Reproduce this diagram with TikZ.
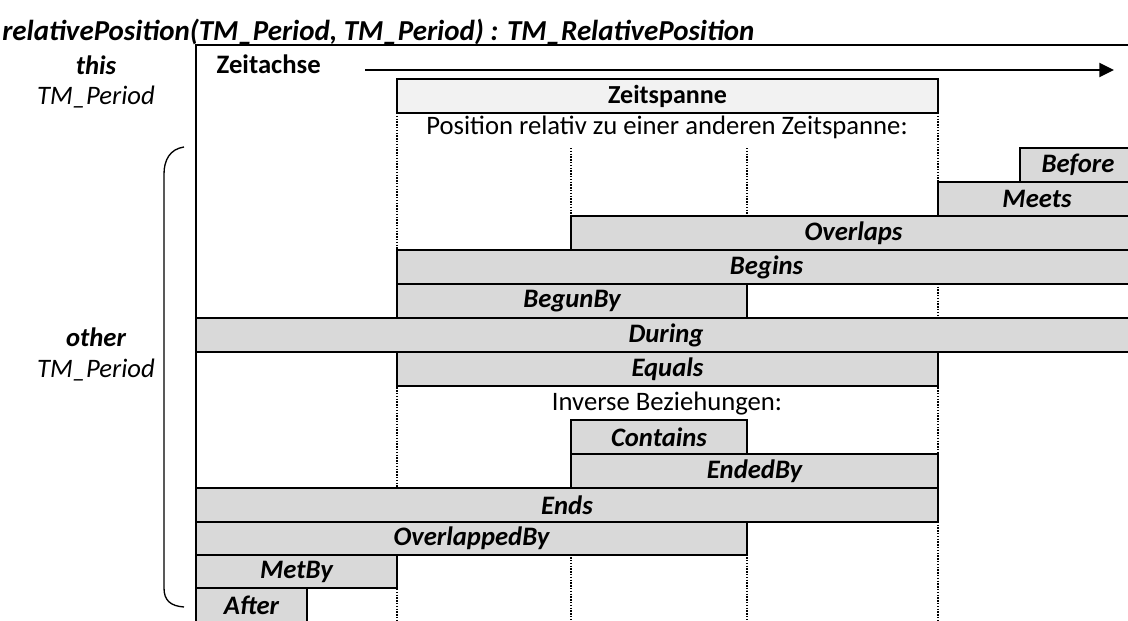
\documentclass[tikz,border=0pt]{standalone}
\usepackage{fontspec}
\setmainfont{Carlito}
\usetikzlibrary{arrows.meta,fit,positioning}
\definecolor{barfill}{HTML}{D9D9D9}
\definecolor{spanfill}{HTML}{F2F2F2}

\begin{document}
\begin{tikzpicture}[x=0.75pt, y=-0.75pt,
  bar/.style={draw, line width=1.3pt, fill=barfill, inner sep=0pt},
  barlabel/.style={inner sep=0pt, font=\fontsize{20}{24}\selectfont\bfseries\itshape},
  span/.style={draw, line width=1.3pt, fill=spanfill, inner sep=0pt},
  frame/.style={line width=1.5pt},
  grid/.style={densely dotted, line width=1.1pt},
  note/.style={font=\fontsize{20}{24}\selectfont},
  side/.style={font=\fontsize{20}{24}\selectfont\itshape}]

  \useasboundingbox (0,0) rectangle (1128,621);

  \node[anchor=base west, inner sep=0pt, font=\fontsize{21.7}{26}\selectfont\bfseries\itshape] (title) at (2,40) {relativePosition(TM\_Period, TM\_Period) : TM\_RelativePosition};

  % frame and time axis
  \draw[frame] (196,625) -- (196,45) -- (1135,45);
  \node[anchor=west, font=\fontsize{20}{24}\selectfont\bfseries] (axis) at (212,64) {Zeitachse};
  \coordinate (axisstart) at (365,70);
  \coordinate (axisend) at (1114,70);
  \draw[frame, -{Triangle[length=11pt, width=10.5pt]}] (axisstart) -- (axisend);

  % this period
  \node[span, fit={(397,79) (938,113)}, label={[inner sep=0pt, font=\fontsize{19.5}{23}\selectfont\bfseries]center:Zeitspanne}] (zeitspanne) {};
  \node[note] (relativ) at (667,127) {Position relativ zu einer anderen Zeitspanne:};
  \draw[grid] (397,113) -- (397,625);
  \draw[grid] (938,113) -- (938,625);
  \draw[grid] (571,148) -- (571,386) (571,420) -- (571,625);
  \draw[grid] (747,148) -- (747,386) (747,420) -- (747,625);

  % relations
  \node[bar, fit={(1020,148) (1136,182)}, label={[barlabel]center:Before}] (before) {};
  \node[bar, fit={(938,182) (1136,216)}, label={[barlabel]center:Meets}] (meets) {};
  \node[bar, fit={(571,216) (1136,250)}, label={[barlabel]center:Overlaps}] (overlaps) {};
  \node[bar, fit={(397,250) (1136,284)}, label={[barlabel]center:Begins}] (begins) {};
  \node[bar, fit={(397,284) (747,318)}, label={[barlabel]center:BegunBy}] (begunby) {};
  \node[bar, fit={(196,318) (1136,352)}, label={[barlabel]center:During}] (during) {};
  \node[bar, fit={(397,352) (938,386)}, label={[barlabel]center:Equals}] (equals) {};
  \node[note] (inverse) at (667,404) {Inverse Beziehungen:};
  \node[bar, fit={(571,420) (747,454)}, label={[barlabel]center:Contains}] (contains) {};
  \node[bar, fit={(571,454) (938,488)}, label={[barlabel]center:EndedBy}] (endedby) {};
  \node[bar, fit={(196,488) (938,522)}, label={[barlabel]center:Ends}] (ends) {};
  \node[bar, fit={(196,522) (747,555)}, label={[barlabel]center:OverlappedBy}] (overlappedby) {};
  \node[bar, fit={(196,555) (397,588)}, label={[barlabel]center:MetBy}] (metby) {};
  \node[bar, fit={(196,588) (307,622)}, label={[barlabel]center:After}] (after) {};

  % left labels
  \node[font=\fontsize{20}{24}\selectfont\bfseries\itshape] (this) at (96,65) {this};
  \node[side] (thisperiod) at (96,97) {TM\_Period};
  \node[font=\fontsize{20}{24}\selectfont\bfseries\itshape] (other) at (96,337) {other};
  \node[side] (otherperiod) at (96,370) {TM\_Period};
  \draw[line width=1pt] (184,147) .. controls (170,149) and (164,160) .. (164,174) -- (164,588) .. controls (164,600) and (170,606) .. (184,607);
\end{tikzpicture}
\end{document}
